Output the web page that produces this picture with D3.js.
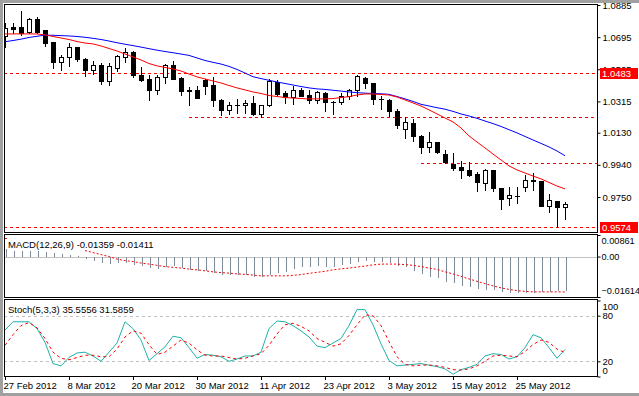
<!DOCTYPE html>
<html lang="en">
<head>
<meta charset="utf-8" />
<title>Daily chart</title>
<script src="https://cdnjs.cloudflare.com/ajax/libs/d3/7.8.5/d3.min.js"></script>
<style>
    body { margin: 0; background: #fff; }
    svg text { font-family: "Liberation Sans", Arial, sans-serif; font-size: 9.5px; fill: #000; }
</style>
</head>
<body>
<div id="vis"></div>
<script type="text/javascript">
    // ---------------- data ----------------
    var opens = [1.0702, 1.0752, 1.0755, 1.0726, 1.0802, 1.0737, 1.0666, 1.0548, 1.0578, 1.0637,
        1.0566, 1.0501, 1.0530, 1.0436, 1.0513, 1.0578, 1.0607, 1.0471, 1.0448, 1.0383,
        1.0460, 1.0530, 1.0454, 1.0380, 1.0383, 1.0442, 1.0412, 1.0324, 1.0265, 1.0294,
        1.0294, 1.0306, 1.0241, 1.0294, 1.0430, 1.0365, 1.0341, 1.0383, 1.0353, 1.0324,
        1.0365, 1.0312, 1.0312, 1.0347, 1.0383, 1.0454, 1.0424, 1.0330, 1.0324, 1.0259,
        1.0152, 1.0188, 1.0111, 1.0046, 1.0075, 1.0004, 0.9945, 0.9928, 0.9910, 0.9886,
        0.9833, 0.9910, 0.9803, 0.9744, 0.9756, 0.9809, 0.9851, 0.9845, 0.9697, 0.9727,
        0.9691];
    var highs = [1.0779, 1.0779, 1.0850, 1.0808, 1.0814, 1.0737, 1.0666, 1.0590, 1.0661, 1.0637,
        1.0572, 1.0554, 1.0542, 1.0542, 1.0590, 1.0631, 1.0613, 1.0519, 1.0471, 1.0471,
        1.0536, 1.0554, 1.0460, 1.0400, 1.0406, 1.0448, 1.0460, 1.0330, 1.0312, 1.0330,
        1.0324, 1.0347, 1.0294, 1.0448, 1.0442, 1.0377, 1.0406, 1.0395, 1.0383, 1.0377,
        1.0371, 1.0320, 1.0365, 1.0389, 1.0471, 1.0460, 1.0424, 1.0347, 1.0330, 1.0270,
        1.0223, 1.0211, 1.0117, 1.0134, 1.0075, 1.0028, 1.0010, 0.9963, 0.9957, 0.9898,
        0.9916, 0.9910, 0.9803, 0.9809, 0.9809, 0.9880, 0.9892, 0.9845, 0.9768, 0.9727,
        0.9721];
    var lows = [1.0637, 1.0720, 1.0708, 1.0720, 1.0720, 1.0643, 1.0513, 1.0501, 1.0525, 1.0554,
        1.0465, 1.0477, 1.0418, 1.0412, 1.0495, 1.0548, 1.0460, 1.0436, 1.0324, 1.0359,
        1.0424, 1.0448, 1.0353, 1.0294, 1.0335, 1.0359, 1.0288, 1.0235, 1.0241, 1.0247,
        1.0247, 1.0235, 1.0223, 1.0288, 1.0347, 1.0306, 1.0300, 1.0347, 1.0306, 1.0306,
        1.0259, 1.0241, 1.0300, 1.0330, 1.0347, 1.0395, 1.0300, 1.0270, 1.0229, 1.0158,
        1.0099, 1.0081, 1.0010, 1.0016, 1.0010, 0.9951, 0.9910, 0.9863, 0.9874, 0.9786,
        0.9792, 0.9786, 0.9679, 0.9703, 0.9715, 0.9786, 0.9792, 0.9697, 0.9662, 0.9574,
        0.9620];
    var closes = [1.0749, 1.0746, 1.0720, 1.0802, 1.0726, 1.0661, 1.0548, 1.0578, 1.0637, 1.0566,
        1.0501, 1.0530, 1.0436, 1.0525, 1.0584, 1.0607, 1.0471, 1.0442, 1.0383, 1.0460,
        1.0530, 1.0448, 1.0377, 1.0377, 1.0335, 1.0406, 1.0324, 1.0265, 1.0294, 1.0291,
        1.0306, 1.0241, 1.0294, 1.0436, 1.0359, 1.0341, 1.0383, 1.0347, 1.0324, 1.0371,
        1.0312, 1.0309, 1.0347, 1.0383, 1.0465, 1.0424, 1.0330, 1.0327, 1.0259, 1.0176,
        1.0194, 1.0111, 1.0046, 1.0075, 1.0016, 0.9957, 0.9922, 0.9910, 0.9880, 0.9839,
        0.9910, 0.9803, 0.9739, 0.9762, 0.9753, 0.9851, 0.9845, 0.9697, 0.9733, 0.9691,
        0.9709];

    var maFast = [1.0714, 1.0714, 1.0714, 1.0714, 1.0714, 1.0708, 1.0699, 1.0690, 1.0681, 1.0669,
        1.0660, 1.0655, 1.0643, 1.0628, 1.0613, 1.0595, 1.0578, 1.0560, 1.0539, 1.0525,
        1.0516, 1.0507, 1.0495, 1.0477, 1.0460, 1.0448, 1.0436, 1.0424, 1.0409, 1.0395,
        1.0383, 1.0371, 1.0362, 1.0350, 1.0344, 1.0338, 1.0335, 1.0332, 1.0330, 1.0330,
        1.0330, 1.0332, 1.0338, 1.0343, 1.0353, 1.0359, 1.0359, 1.0356, 1.0353, 1.0341,
        1.0324, 1.0306, 1.0288, 1.0265, 1.0241, 1.0217, 1.0194, 1.0158, 1.0111, 1.0075,
        1.0040, 1.0004, 0.9969, 0.9934, 0.9910, 0.9892, 0.9874, 0.9857, 0.9836, 0.9815,
        0.9798];
    var maSlow = [1.0668, 1.0675, 1.0683, 1.0693, 1.0700, 1.0707, 1.0706, 1.0704, 1.0702, 1.0699,
        1.0694, 1.0688, 1.0681, 1.0672, 1.0662, 1.0653, 1.0645, 1.0636, 1.0627, 1.0618,
        1.0610, 1.0603, 1.0595, 1.0587, 1.0572, 1.0557, 1.0546, 1.0536, 1.0522, 1.0504,
        1.0483, 1.0461, 1.0450, 1.0440, 1.0430, 1.0421, 1.0412, 1.0403, 1.0395, 1.0389,
        1.0386, 1.0381, 1.0376, 1.0371, 1.0367, 1.0364, 1.0362, 1.0360, 1.0357, 1.0344,
        1.0330, 1.0315, 1.0298, 1.0288, 1.0278, 1.0269, 1.0256, 1.0241, 1.0229, 1.0215,
        1.0199, 1.0184, 1.0167, 1.0148, 1.0129, 1.0108, 1.0087, 1.0067, 1.0046, 1.0022,
        0.9994];

    var macdMain = [0.0031, 0.0024, 0.0024, 0.0024, 0.0024, 0.0020, 0.0016, 0.0011, 0.0006, 0.0001,
        -0.0008, -0.0017, -0.0024, -0.0030, -0.0026, -0.0024, -0.0033, -0.0037, -0.0046, -0.0049,
        -0.0042, -0.0037, -0.0046, -0.0053, -0.0056, -0.0056, -0.0064, -0.0073, -0.0073, -0.0073,
        -0.0073, -0.0082, -0.0080, -0.0073, -0.0064, -0.0061, -0.0049, -0.0042, -0.0042, -0.0037,
        -0.0040, -0.0040, -0.0033, -0.0030, -0.0020, -0.0016, -0.0020, -0.0020, -0.0026, -0.0037,
        -0.0042, -0.0056, -0.0069, -0.0080, -0.0086, -0.0100, -0.0106, -0.0117, -0.0122, -0.0130,
        -0.0133, -0.0133, -0.0140, -0.0144, -0.0146, -0.0144, -0.0144, -0.0140, -0.0140, -0.0137,
        -0.01359];
    // first values sit behind the indicator label in the picture
    var macdSignal = [0.0074, null, null, null, null, null, null, null, null, null,
        0.0024, 0.0016, 0.0008, 0.0000, -0.0010, -0.0016, -0.0020, -0.0026, -0.0030, -0.0035,
        -0.0040, -0.0043, -0.0046, -0.0050, -0.0053, -0.0057, -0.0061, -0.0064, -0.0066, -0.0069,
        -0.0071, -0.0074, -0.0077, -0.0077, -0.0077, -0.0077, -0.0075, -0.0072, -0.0067, -0.0063,
        -0.0059, -0.0053, -0.0049, -0.0046, -0.0042, -0.0038, -0.0033, -0.0030, -0.0030, -0.0030,
        -0.0032, -0.0035, -0.0040, -0.0046, -0.0051, -0.0061, -0.0069, -0.0079, -0.0089, -0.0099,
        -0.0108, -0.0117, -0.0125, -0.0131, -0.0136, -0.0139, -0.0141, -0.0141, -0.0141, -0.0141,
        -0.01411];

    var stochMain = [61, 72, 72, 72, 63, 45, 17, 14, 25, 31,
        32, 27, 20, 32, 44, 72, 63, 48, 21, 30,
        39, 53, 51, 38, 24, 29, 28, 26, 20, 23,
        27, 27, 32, 63, 73, 72, 67, 60, 52, 40,
        38, 44, 50, 67, 88, 88, 68, 43, 21, 14,
        15, 16, 17, 15, 13, 10, 3, 9, 12, 16,
        27, 30, 29, 23, 26, 38, 55, 51, 38, 24,
        35.5556];
    var stochSignal = [41, 55, 67, 71, 64, 50, 32, 24, 22, 25,
        28, 28, 26, 26, 36, 52, 60, 57, 42, 29,
        32, 40, 48, 44, 35, 28, 27, 27, 25, 23,
        24, 27, 30, 41, 56, 68, 70, 66, 60, 50,
        45, 40, 43, 54, 68, 81, 80, 67, 46, 26,
        16, 14, 15, 15, 14, 12, 9, 8.5, 10, 14,
        20, 27, 28, 27, 26, 33, 42, 48, 45, 36,
        31.5859];

    var priceTicks = [1.0885, 1.0695, 1.0505, 1.0315, 1.0130, 0.9940, 0.9750];
    var labelledLevels = [1.0483, 0.9574];
    var trendLevels = [1.0223, 0.9951];
    var trendStarts = [23, 52];
    var macdTicks = [0.00861, 0.00, -0.01614];
    var stochTicks = [100, 80, 20, 0];
    var stochLevels = [80, 20];
    var dateLabels = ["27 Feb 2012", "8 Mar 2012", "20 Mar 2012", "30 Mar 2012", "11 Apr 2012",
        "23 Apr 2012", "3 May 2012", "15 May 2012", "25 May 2012"];
    var dateBars = [0, 8, 16, 24, 32, 40, 48, 56, 64];

    // ---------------- layout ----------------
    var W = 639, H = 396;
    var left = 4, right = 597;
    var main = { top: 4, bottom: 232 };
    var macdP = { top: 234, bottom: 297 };
    var stochP = { top: 299, bottom: 376 };

    var svg = d3.select("#vis").append("svg")
        .attr("width", W).attr("height", H)
        .style("display", "block");

    // window frame
    svg.append("rect").attr("x", 0).attr("y", 0).attr("width", W).attr("height", H).attr("fill", "#a0a0a0");
    svg.append("rect").attr("x", 3).attr("y", 3).attr("width", W - 3).attr("height", H - 6).attr("fill", "#fff");

    var bars = d3.range(opens.length);
    var x = d3.scaleLinear().domain([0, 70]).range([5, 565]);
    var yP = d3.scaleLinear().domain([0.9750, 1.0885]).range([197, 5]);
    var yM = d3.scaleLinear().domain([-0.01614, 0.00861]).range([297, 235]);
    var yS = d3.scaleLinear().domain([0, 100]).range([376.5, 300.5]);

    function px(v) { return Math.round(v) + 0.5; }

    var defs = svg.append("defs");
    [["clipMain", main], ["clipMacd", macdP], ["clipStoch", stochP]].forEach(function (c) {
        defs.append("clipPath").attr("id", c[0]).append("rect")
            .attr("x", left + 1).attr("y", c[1].top + 1)
            .attr("width", right - left - 1).attr("height", c[1].bottom - c[1].top - 1);
    });

    // ---------------- main panel ----------------
    var gMain = svg.append("g").attr("clip-path", "url(#clipMain)");

    gMain.selectAll("line.level").data(labelledLevels).enter().append("line")
        .attr("x1", left).attr("x2", right)
        .attr("y1", function (d) { return px(yP(d)); }).attr("y2", function (d) { return px(yP(d)); })
        .attr("stroke", "#ff0000").attr("stroke-dasharray", "3,3");
    gMain.selectAll("line.trend").data(trendLevels).enter().append("line")
        .attr("x1", function (d, i) { return x(trendStarts[i]); }).attr("x2", right)
        .attr("y1", function (d) { return px(yP(d)); }).attr("y2", function (d) { return px(yP(d)); })
        .attr("stroke", "#ff0000").attr("stroke-dasharray", "3,3");

    var candle = gMain.selectAll("g.candle").data(bars).enter().append("g")
        .attr("shape-rendering", "crispEdges");
    candle.append("line")
        .attr("x1", function (i) { return px(x(i)); }).attr("x2", function (i) { return px(x(i)); })
        .attr("y1", function (i) { return Math.round(yP(highs[i])); })
        .attr("y2", function (i) { return Math.round(yP(lows[i])) + 1; })
        .attr("stroke", "#000");
    candle.append("rect")
        .attr("x", function (i) { return closes[i] >= opens[i] ? Math.round(x(i)) - 1.5 : Math.round(x(i)) - 2; })
        .attr("width", function (i) { return closes[i] >= opens[i] ? 4 : 5; })
        .attr("y", function (i) {
            var t = Math.round(yP(Math.max(opens[i], closes[i])));
            return closes[i] >= opens[i] ? t + 0.5 : t;
        })
        .attr("height", function (i) {
            var t = Math.round(yP(Math.max(opens[i], closes[i])));
            var b = Math.round(yP(Math.min(opens[i], closes[i])));
            return closes[i] >= opens[i] ? Math.max(1, b - t) : Math.max(1, b - t + 1);
        })
        .attr("fill", function (i) { return closes[i] >= opens[i] ? "#fff" : "#000"; })
        .attr("stroke", function (i) { return closes[i] >= opens[i] ? "#000" : "none"; });

    var maLine = function (arr) {
        return d3.line().x(function (i) { return x(i); }).y(function (i) { return yP(arr[i]); });
    };
    gMain.append("path").datum(bars).attr("d", maLine(maSlow))
        .attr("fill", "none").attr("stroke", "#0000ff").attr("stroke-width", 1);
    gMain.append("path").datum(bars).attr("d", maLine(maFast))
        .attr("fill", "none").attr("stroke", "#ff0000").attr("stroke-width", 1);

    // ---------------- MACD panel ----------------
    var gMacd = svg.append("g").attr("clip-path", "url(#clipMacd)");
    gMacd.append("line").attr("x1", left).attr("x2", right)
        .attr("y1", px(yM(0))).attr("y2", px(yM(0))).attr("stroke", "#c0c0c0");
    gMacd.selectAll("line.hist").data(bars).enter().append("line")
        .attr("shape-rendering", "crispEdges")
        .attr("x1", function (i) { return px(x(i)) + 1; }).attr("x2", function (i) { return px(x(i)) + 1; })
        .attr("y1", Math.round(yM(0)))
        .attr("y2", function (i) { return Math.round(yM(macdMain[i])); })
        .attr("stroke", "#7f8a99").attr("stroke-width", 1);

    var sigLine = d3.line().defined(function (i) { return macdSignal[i] !== null; })
        .x(function (i) { return x(i); }).y(function (i) { return yM(macdSignal[i]); });
    gMacd.append("path").datum(bars).attr("d", sigLine)
        .attr("fill", "none").attr("stroke", "#ff0000").attr("stroke-dasharray", "2,2");
    gMacd.append("line").attr("x1", x(0)).attr("x2", x(0) + 2)
        .attr("y1", px(yM(macdSignal[0]))).attr("y2", px(yM(macdSignal[0])))
        .attr("stroke", "#ff0000");

    svg.append("text").attr("x", 8).attr("y", 248)
        .text("MACD(12,26,9) " + macdMain[70].toFixed(5) + " " + macdSignal[70].toFixed(5));

    // ---------------- Stochastic panel ----------------
    var gSto = svg.append("g").attr("clip-path", "url(#clipStoch)");
    gSto.selectAll("line.lvl").data(stochLevels).enter().append("line")
        .attr("x1", left).attr("x2", right)
        .attr("y1", function (d) { return px(yS(d)); }).attr("y2", function (d) { return px(yS(d)); })
        .attr("stroke", "#c0c0c0").attr("stroke-dasharray", "3,3");
    gSto.append("path").datum(bars)
        .attr("d", d3.line().x(function (i) { return x(i); }).y(function (i) { return yS(stochMain[i]); }))
        .attr("fill", "none").attr("stroke", "#20b2aa").attr("stroke-width", 1);
    gSto.append("path").datum(bars)
        .attr("d", d3.line().x(function (i) { return x(i); }).y(function (i) { return yS(stochSignal[i]); }))
        .attr("fill", "none").attr("stroke", "#ff0000").attr("stroke-width", 1).attr("stroke-dasharray", "3,3");

    svg.append("text").attr("x", 8).attr("y", 313)
        .text("Stoch(5,3,3) " + stochMain[70].toFixed(4) + " " + stochSignal[70].toFixed(4));

    // ---------------- frames ----------------
    [main, macdP, stochP].forEach(function (p) {
        svg.append("rect").attr("x", left + 0.5).attr("y", p.top + 0.5)
            .attr("width", right - left).attr("height", p.bottom - p.top)
            .attr("fill", "none").attr("stroke", "#000").attr("shape-rendering", "crispEdges");
    });

    // ---------------- axes ----------------
    var axP = svg.append("g").attr("transform", "translate(" + (right + 0.5) + ",0)")
        .call(d3.axisRight(yP).tickValues(priceTicks).tickSize(3).tickPadding(2).tickFormat(d3.format(".4f")));
    axP.select(".domain").remove();

    labelledLevels.forEach(function (v) {
        var yy = Math.round(yP(v));
        svg.append("rect").attr("x", 600).attr("y", yy - 5).attr("width", 38).attr("height", 11).attr("fill", "#ff0000");
        svg.append("text").attr("x", 602).attr("y", yy + 4).style("fill", "#fff").text(v.toFixed(4));
    });

    var axM = svg.append("g").attr("transform", "translate(" + (right + 0.5) + ",0)")
        .call(d3.axisRight(yM).tickValues(macdTicks).tickSize(3).tickPadding(1)
            .tickFormat(function (d) { return d === 0 ? "0.00" : d3.format(".5f")(d); }));
    axM.select(".domain").remove();
    axM.selectAll(".tick text").attr("dy", function (d) { return d > 0 ? "0.95em" : d < 0 ? "-0.35em" : "0.32em"; });

    var axS = svg.append("g").attr("transform", "translate(" + (right + 0.5) + ",0)")
        .call(d3.axisRight(yS).tickValues(stochTicks).tickSize(3).tickPadding(2));
    axS.select(".domain").remove();
    axS.selectAll(".tick text").attr("dy", function (d) { return d === 100 ? "0.95em" : d === 0 ? "-0.35em" : "0.32em"; });

    svg.selectAll(".tick text").style("font-family", "\"Liberation Sans\", Arial, sans-serif").style("font-size", "9.5px");
    axM.selectAll(".tick text").style("font-size", "9.2px");

    // date axis
    var gDate = svg.append("g");
    gDate.selectAll("line").data(dateBars).enter().append("line")
        .attr("x1", function (d) { return px(x(d)); }).attr("x2", function (d) { return px(x(d)); })
        .attr("y1", stochP.bottom).attr("y2", stochP.bottom + 4).attr("stroke", "#000");
    gDate.selectAll("text").data(dateBars).enter().append("text")
        .attr("x", function (d) { return x(d) - 1.5; }).attr("y", 389)
        .text(function (d, i) { return dateLabels[i]; });
</script>
</body>
</html>
